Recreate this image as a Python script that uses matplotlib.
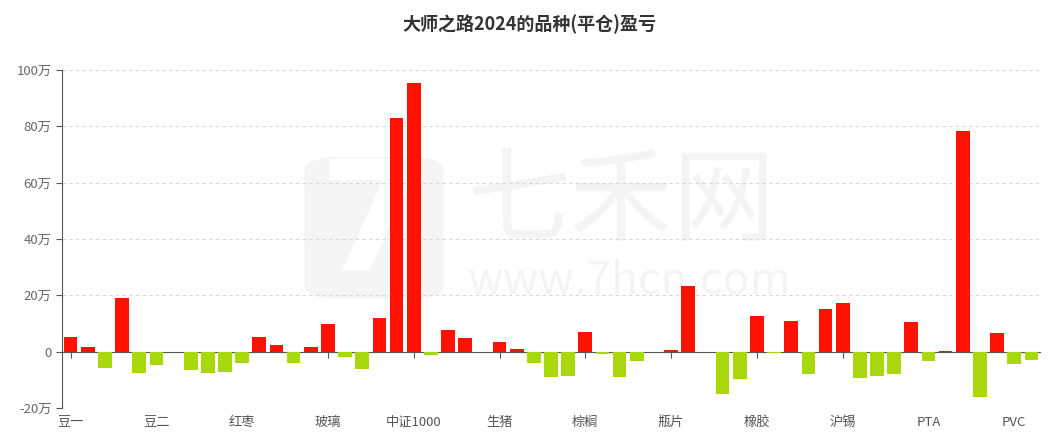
import numpy as np
import matplotlib.pyplot as plt
from matplotlib.patches import FancyBboxPatch

plt.rcParams['font.family'] = ['Noto Sans CJK SC', 'DejaVu Sans']

# 盈亏 (万元), 57 个品种, 横轴每隔 5 个显示一个名称
pnl = [5.3, 1.8, -5.8, 19.2, -7.5, -4.9, 0.0, -6.6, -7.4, -7.1,
       -4.2, 5.1, 2.4, -4.0, 1.6, 9.9, -2.0, -6.0, 12.0, 83.1,
       95.3, -1.2, 7.6, 4.8, 0.0, 3.6, 0.9, -4.2, -9.1, -8.7,
       6.9, -0.8, -8.9, -3.3, 0.0, 0.5, 23.2, 0.0, -15.2, -9.6,
       12.6, -0.6, 10.8, -7.8, 15.3, 17.4, -9.3, -8.6, -7.8, 10.4,
       -3.3, 0.35, 78.5, -16.1, 6.6, -4.4, -2.9]
shown_labels = ['豆一', '豆二', '红枣', '玻璃', '中证1000', '生猪',
                '棕榈', '瓶片', '橡胶', '沪锡', 'PTA', 'PVC']
yticks = [-20, 0, 20, 40, 60, 80, 100]

x = np.arange(len(pnl))
pnl = np.array(pnl)
colors = np.where(pnl >= 0, '#ff1100', '#a8d80c')

fig = plt.figure(figsize=(10.58, 4.44), dpi=100)
ax = fig.add_axes([62/1058, 1-408/444, (1040-62)/1058, (408-70)/444])
ax.patch.set_alpha(0)

# watermark
fig.patches.append(FancyBboxPatch((305/1058, 1-298/444), 138/1058, 140/444,
                                  boxstyle='round,pad=0,rounding_size=0.03',
                                  transform=fig.transFigure, color='#f5f5f5', zorder=-2))
fig.text(372/1058, 1-228/444, '7', fontsize=110, color='white', fontweight='bold',
         ha='center', va='center', zorder=-1, family='DejaVu Sans')
fig.text(622/1058, 1-203/444, '七禾网', fontsize=74, color='#f4f4f4',
         ha='center', va='center', zorder=-1)
fig.text(630/1058, 1-280/444, 'www.7hcn.com', fontsize=32, color='#f4f4f4',
         ha='center', va='center', zorder=-1)

ax.bar(x, pnl, width=0.8, color=colors, zorder=3)

ax.set_xlim(-0.5, len(pnl) - 0.5)
ax.set_ylim(-20, 100)
ax.set_yticks(yticks)
ax.set_yticklabels([('%d万' % v) if v != 0 else '0' for v in yticks])
ax.yaxis.grid(True, linestyle=(0, (3, 3)), color='#d6d6d6', linewidth=0.8)
ax.set_axisbelow(True)

for s in ['top', 'right']:
    ax.spines[s].set_visible(False)
ax.spines['left'].set_color('#555555')
ax.spines['bottom'].set_position(('data', 0))
ax.spines['bottom'].set_color('#555555')

ax.set_xticks(x[::5])
ax.set_xticklabels(shown_labels)
ax.tick_params(axis='x', length=4, color='#555555', pad=42, labelsize=9.5, labelcolor='#555555')
ax.tick_params(axis='y', length=4, color='#555555', labelsize=9.5, labelcolor='#666666')

fig.text(0.5, 1-24/444, '大师之路2024的品种(平仓)盈亏', ha='center', va='center',
         fontsize=13, fontweight='bold', color='#333333')

fig.savefig('out.png', dpi=100)
